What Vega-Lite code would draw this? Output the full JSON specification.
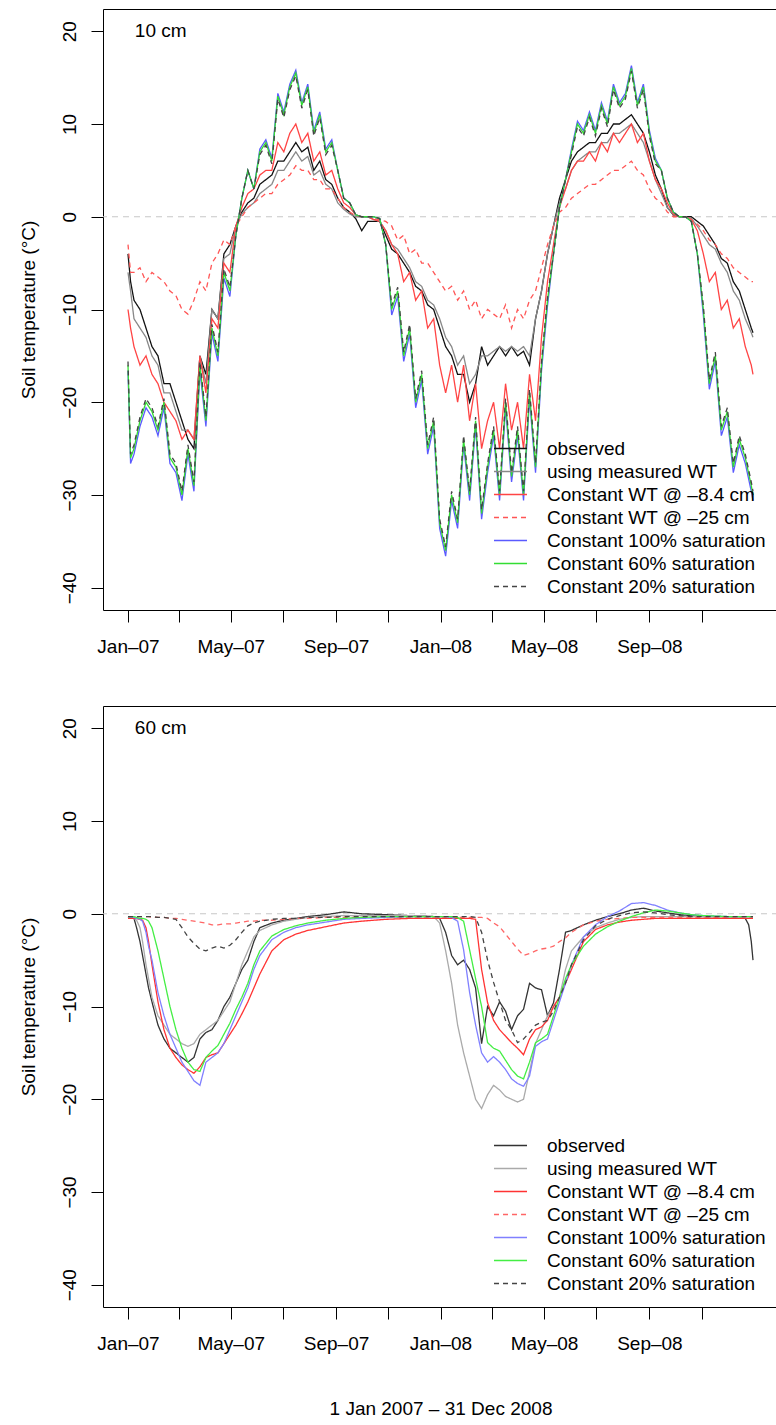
{
"$schema": "https://vega.github.io/schema/vega-lite/v6.json",
"padding": {"left": 18, "top": 8, "right": 0, "bottom": 4},
"config": {
  "font": "Liberation Sans",
  "view": {"stroke": "#000000", "strokeWidth": 1},
  "axis": {"grid": false, "domain": false, "tickColor": "#000000", "tickSize": 12, "tickWidth": 1, "labelFontSize": 19, "labelColor": "#000000", "titleFontSize": 19, "titleFontWeight": "normal", "titleColor": "#000000"},
  "legend": {"labelLimit": 400}
},
"datasets": {
"top": [
{"d":"2007-01-01","O":-4,"M":-6,"R":-10,"RD":-3,"B":-16.6,"G":-16,"K":-15.6},
{"d":"2007-01-04","O":-7,"M":-8,"R":-12,"RD":-6,"B":-26.6,"G":-26,"K":-25.6},
{"d":"2007-01-08","O":-9,"M":-11,"R":-14,"RD":-6,"B":-25.6,"G":-25,"K":-24.6},
{"d":"2007-01-15","O":-10,"M":-12,"R":-16,"RD":-5.5,"B":-22.6,"G":-22,"K":-21.6},
{"d":"2007-01-22","O":-12,"M":-13,"R":-15,"RD":-7,"B":-20.6,"G":-20,"K":-19.6},
{"d":"2007-01-29","O":-14,"M":-15,"R":-17,"RD":-6,"B":-21.6,"G":-21,"K":-20.6},
{"d":"2007-02-05","O":-15,"M":-16,"R":-18,"RD":-6.5,"B":-23.6,"G":-23,"K":-22.6},
{"d":"2007-02-12","O":-18,"M":-19,"R":-20,"RD":-7,"B":-20.6,"G":-20,"K":-19.6},
{"d":"2007-02-19","O":-18,"M":-19,"R":-21,"RD":-8,"B":-26.6,"G":-26,"K":-25.6},
{"d":"2007-02-26","O":-20,"M":-21,"R":-22,"RD":-8.5,"B":-27.6,"G":-27,"K":-26.6},
{"d":"2007-03-05","O":-22,"M":-23,"R":-24,"RD":-10,"B":-30.6,"G":-30,"K":-29.6},
{"d":"2007-03-12","O":-24,"M":-23,"R":-23,"RD":-10.5,"B":-25.6,"G":-25,"K":-24.6},
{"d":"2007-03-19","O":-25,"M":-24,"R":-24,"RD":-9,"B":-29.6,"G":-29,"K":-28.6},
{"d":"2007-03-26","O":-15,"M":-15,"R":-15,"RD":-7,"B":-16.6,"G":-16,"K":-15.6},
{"d":"2007-04-02","O":-17,"M":-18,"R":-19,"RD":-8,"B":-22.6,"G":-22,"K":-21.6},
{"d":"2007-04-09","O":-10,"M":-10,"R":-11,"RD":-5,"B":-12.6,"G":-12,"K":-11.6},
{"d":"2007-04-16","O":-11,"M":-11,"R":-12,"RD":-4,"B":-15.6,"G":-15,"K":-14.6},
{"d":"2007-04-23","O":-4,"M":-4.5,"R":-5,"RD":-2.5,"B":-6.6,"G":-6,"K":-5.6},
{"d":"2007-04-30","O":-3,"M":-4,"R":-6,"RD":-3,"B":-8.6,"G":-8,"K":-7.6},
{"d":"2007-05-07","O":-1,"M":-1,"R":-1,"RD":-1,"B":-2,"G":-2,"K":-2},
{"d":"2007-05-14","O":0.5,"M":0.3,"R":1,"RD":0,"B":2,"G":2,"K":2},
{"d":"2007-05-21","O":1.5,"M":1,"R":2.5,"RD":1,"B":5,"G":5,"K":5},
{"d":"2007-05-28","O":2,"M":1.5,"R":3,"RD":1.5,"B":3,"G":3,"K":3},
{"d":"2007-06-04","O":3.5,"M":2.5,"R":4.5,"RD":2,"B":7.3,"G":7,"K":6.7},
{"d":"2007-06-11","O":4,"M":3,"R":5,"RD":2.5,"B":8.3,"G":8,"K":7.7},
{"d":"2007-06-18","O":4.5,"M":3.5,"R":5,"RD":2.5,"B":6.3,"G":6,"K":5.7},
{"d":"2007-06-25","O":6,"M":5,"R":8,"RD":3.5,"B":13.3,"G":13,"K":12.7},
{"d":"2007-07-02","O":6,"M":5,"R":7,"RD":4,"B":11.3,"G":11,"K":10.7},
{"d":"2007-07-09","O":7,"M":6,"R":9,"RD":4.5,"B":14.3,"G":14,"K":13.7},
{"d":"2007-07-16","O":8,"M":7,"R":10,"RD":5.5,"B":15.8,"G":15.5,"K":15.2},
{"d":"2007-07-23","O":7,"M":6,"R":8,"RD":5,"B":12.3,"G":12,"K":11.7},
{"d":"2007-07-30","O":7.5,"M":6.5,"R":9,"RD":5,"B":14.3,"G":14,"K":13.7},
{"d":"2007-08-06","O":5,"M":4.5,"R":6,"RD":4,"B":9.3,"G":9,"K":8.7},
{"d":"2007-08-13","O":6,"M":5,"R":7,"RD":4,"B":11.3,"G":11,"K":10.7},
{"d":"2007-08-20","O":4,"M":3.5,"R":4.5,"RD":3,"B":7.3,"G":7,"K":6.7},
{"d":"2007-08-27","O":3.5,"M":3,"R":5,"RD":3,"B":8.3,"G":8,"K":7.7},
{"d":"2007-09-03","O":2,"M":1.5,"R":3,"RD":2,"B":5,"G":5,"K":5},
{"d":"2007-09-10","O":1,"M":0.8,"R":1.5,"RD":1,"B":2,"G":2,"K":2},
{"d":"2007-09-17","O":0.5,"M":0.3,"R":1,"RD":0.5,"B":1.5,"G":1.5,"K":1.5},
{"d":"2007-09-24","O":-0.2,"M":0,"R":0.2,"RD":0.1,"B":0.2,"G":0.2,"K":0.2},
{"d":"2007-10-01","O":-1.5,"M":0,"R":0,"RD":0,"B":0,"G":0,"K":0},
{"d":"2007-10-08","O":-0.5,"M":0,"R":0,"RD":0,"B":0,"G":0,"K":0},
{"d":"2007-10-15","O":-0.5,"M":-0.3,"R":-0.3,"RD":-0.2,"B":0,"G":0,"K":0},
{"d":"2007-10-22","O":-0.5,"M":-0.5,"R":-0.5,"RD":-0.3,"B":-0.2,"G":-0.2,"K":-0.2},
{"d":"2007-10-29","O":-2,"M":-1.5,"R":-1.5,"RD":-0.5,"B":-3,"G":-3,"K":-3},
{"d":"2007-11-05","O":-3.5,"M":-3,"R":-3,"RD":-1,"B":-10.6,"G":-10,"K":-9.6},
{"d":"2007-11-12","O":-4,"M":-3.5,"R":-4,"RD":-2.5,"B":-8.6,"G":-8,"K":-7.6},
{"d":"2007-11-19","O":-5,"M":-4.5,"R":-7,"RD":-2,"B":-15.6,"G":-15,"K":-14.6},
{"d":"2007-11-26","O":-6,"M":-5.5,"R":-6,"RD":-4,"B":-12.6,"G":-12,"K":-11.6},
{"d":"2007-12-03","O":-7.5,"M":-7,"R":-9,"RD":-3.5,"B":-20.6,"G":-20,"K":-19.6},
{"d":"2007-12-10","O":-8,"M":-7.5,"R":-8,"RD":-5,"B":-17.6,"G":-17,"K":-16.6},
{"d":"2007-12-17","O":-9.5,"M":-9,"R":-12,"RD":-5,"B":-25.6,"G":-25,"K":-24.6},
{"d":"2007-12-24","O":-10,"M":-9.5,"R":-11,"RD":-6,"B":-22.6,"G":-22,"K":-21.6},
{"d":"2007-12-31","O":-12,"M":-11,"R":-16,"RD":-7,"B":-33.6,"G":-33,"K":-32.6},
{"d":"2008-01-07","O":-14,"M":-13,"R":-19,"RD":-8,"B":-36.6,"G":-36,"K":-35.6},
{"d":"2008-01-14","O":-15,"M":-14,"R":-16,"RD":-7.5,"B":-30.6,"G":-30,"K":-29.6},
{"d":"2008-01-21","O":-17,"M":-16,"R":-20,"RD":-9,"B":-33.6,"G":-33,"K":-32.6},
{"d":"2008-01-28","O":-17,"M":-15,"R":-16,"RD":-8,"B":-24.6,"G":-24,"K":-23.6},
{"d":"2008-02-04","O":-20,"M":-18,"R":-22,"RD":-10,"B":-30.6,"G":-30,"K":-29.6},
{"d":"2008-02-11","O":-18,"M":-17,"R":-18,"RD":-9,"B":-22.6,"G":-22,"K":-21.6},
{"d":"2008-02-18","O":-14,"M":-15,"R":-25,"RD":-11,"B":-32.6,"G":-32,"K":-31.6},
{"d":"2008-02-25","O":-16,"M":-15,"R":-22,"RD":-10,"B":-27.6,"G":-27,"K":-26.6},
{"d":"2008-03-03","O":-15,"M":-14.5,"R":-20,"RD":-10.5,"B":-23.6,"G":-23,"K":-22.6},
{"d":"2008-03-10","O":-14,"M":-14,"R":-25,"RD":-11,"B":-30.6,"G":-30,"K":-29.6},
{"d":"2008-03-17","O":-15,"M":-14.5,"R":-18,"RD":-9.5,"B":-20.6,"G":-20,"K":-19.6},
{"d":"2008-03-24","O":-14,"M":-14,"R":-23,"RD":-12,"B":-28.6,"G":-28,"K":-27.6},
{"d":"2008-03-31","O":-15,"M":-14.5,"R":-20,"RD":-10,"B":-23.6,"G":-23,"K":-22.6},
{"d":"2008-04-07","O":-14.5,"M":-14,"R":-25,"RD":-11,"B":-30.6,"G":-30,"K":-29.6},
{"d":"2008-04-14","O":-16,"M":-15,"R":-17,"RD":-9,"B":-19.6,"G":-19,"K":-18.6},
{"d":"2008-04-21","O":-11,"M":-11,"R":-22,"RD":-8,"B":-27.6,"G":-27,"K":-26.6},
{"d":"2008-04-28","O":-8,"M":-8,"R":-13,"RD":-5.5,"B":-16.6,"G":-16,"K":-15.6},
{"d":"2008-05-05","O":-4,"M":-4,"R":-7,"RD":-3,"B":-9.6,"G":-9,"K":-8.6},
{"d":"2008-05-12","O":-1,"M":-1,"R":-3,"RD":-1,"B":-4,"G":-4,"K":-4},
{"d":"2008-05-19","O":2,"M":1.5,"R":1,"RD":0.5,"B":1,"G":1,"K":1},
{"d":"2008-05-26","O":4,"M":3,"R":3,"RD":1,"B":4,"G":4,"K":4},
{"d":"2008-06-02","O":6,"M":5,"R":5,"RD":2,"B":7.3,"G":7,"K":6.7},
{"d":"2008-06-09","O":7,"M":6,"R":6,"RD":2.5,"B":10.3,"G":10,"K":9.7},
{"d":"2008-06-16","O":7.5,"M":6.5,"R":6,"RD":3,"B":9.3,"G":9,"K":8.7},
{"d":"2008-06-23","O":8,"M":7,"R":7,"RD":3.5,"B":11.3,"G":11,"K":10.7},
{"d":"2008-06-30","O":8,"M":7,"R":6,"RD":3.5,"B":9.3,"G":9,"K":8.7},
{"d":"2008-07-07","O":9,"M":8,"R":8,"RD":4,"B":12.3,"G":12,"K":11.7},
{"d":"2008-07-14","O":9,"M":8,"R":7,"RD":4.5,"B":10.3,"G":10,"K":9.7},
{"d":"2008-07-21","O":10,"M":9,"R":9,"RD":5,"B":14.3,"G":14,"K":13.7},
{"d":"2008-07-28","O":10,"M":9,"R":8,"RD":5,"B":12.3,"G":12,"K":11.7},
{"d":"2008-08-04","O":10.5,"M":9.5,"R":9,"RD":5.5,"B":13.3,"G":13,"K":12.7},
{"d":"2008-08-11","O":11,"M":10,"R":10,"RD":6,"B":16.3,"G":16,"K":15.7},
{"d":"2008-08-18","O":10,"M":9,"R":8,"RD":5,"B":12.3,"G":12,"K":11.7},
{"d":"2008-08-25","O":9,"M":8,"R":9,"RD":4.5,"B":14.3,"G":14,"K":13.7},
{"d":"2008-09-01","O":7,"M":6,"R":6,"RD":3,"B":9.3,"G":9,"K":8.7},
{"d":"2008-09-08","O":4.5,"M":4,"R":4,"RD":2,"B":6.3,"G":6,"K":5.7},
{"d":"2008-09-15","O":3,"M":2.5,"R":3,"RD":1.5,"B":5,"G":5,"K":5},
{"d":"2008-09-22","O":1,"M":1,"R":1.5,"RD":0.5,"B":2,"G":2,"K":2},
{"d":"2008-09-29","O":0.2,"M":0.2,"R":0.3,"RD":0,"B":0.5,"G":0.5,"K":0.5},
{"d":"2008-10-06","O":0,"M":0,"R":0,"RD":0,"B":0,"G":0,"K":0},
{"d":"2008-10-13","O":0,"M":0,"R":0,"RD":0,"B":0,"G":0,"K":0},
{"d":"2008-10-20","O":0,"M":-0.2,"R":-0.3,"RD":-0.3,"B":-0.5,"G":-0.5,"K":-0.5},
{"d":"2008-10-27","O":-0.5,"M":-1,"R":-1.5,"RD":-0.8,"B":-4,"G":-4,"K":-4},
{"d":"2008-11-03","O":-1,"M":-2,"R":-4,"RD":-1.5,"B":-10.6,"G":-10,"K":-9.6},
{"d":"2008-11-10","O":-2,"M":-3,"R":-7,"RD":-2.5,"B":-18.6,"G":-18,"K":-17.6},
{"d":"2008-11-17","O":-3,"M":-3.5,"R":-6,"RD":-3,"B":-15.6,"G":-15,"K":-14.6},
{"d":"2008-11-24","O":-4.5,"M":-5,"R":-10,"RD":-4,"B":-23.6,"G":-23,"K":-22.6},
{"d":"2008-12-01","O":-5,"M":-6,"R":-9,"RD":-4.5,"B":-21.6,"G":-21,"K":-20.6},
{"d":"2008-12-08","O":-7,"M":-8,"R":-12,"RD":-5.5,"B":-27.6,"G":-27,"K":-26.6},
{"d":"2008-12-15","O":-8,"M":-9,"R":-11,"RD":-6,"B":-24.6,"G":-24,"K":-23.6},
{"d":"2008-12-22","O":-10,"M":-11,"R":-14,"RD":-6.5,"B":-26.6,"G":-26,"K":-25.6},
{"d":"2008-12-29","O":-12,"M":-12.5,"R":-16,"RD":-7,"B":-29.6,"G":-29,"K":-28.6},
{"d":"2008-12-31","O":-12.5,"M":-13,"R":-17,"RD":-7,"B":-30.6,"G":-30,"K":-29.6}
],
"bot": [
{"d":"2007-01-01","O":-0.3,"M":-0.3,"R":-0.5,"RD":-0.3,"B":-0.3,"G":-0.3,"K":-0.3},
{"d":"2007-01-08","O":-0.5,"M":-0.5,"R":-0.5,"RD":-0.3,"B":-0.4,"G":-0.3,"K":-0.3},
{"d":"2007-01-11","O":-1.5,"M":-0.7,"R":-0.5,"RD":-0.3,"B":-0.5,"G":-0.4,"K":-0.3},
{"d":"2007-01-15","O":-3,"M":-1.5,"R":-0.6,"RD":-0.3,"B":-0.6,"G":-0.5,"K":-0.3},
{"d":"2007-01-18","O":-4.5,"M":-3,"R":-0.7,"RD":-0.3,"B":-0.8,"G":-0.5,"K":-0.3},
{"d":"2007-01-22","O":-6.5,"M":-5.5,"R":-1.5,"RD":-0.3,"B":-2,"G":-0.6,"K":-0.3},
{"d":"2007-01-25","O":-8,"M":-7,"R":-3,"RD":-0.3,"B":-3.5,"G":-0.8,"K":-0.3},
{"d":"2007-01-29","O":-9.5,"M":-9,"R":-5.5,"RD":-0.4,"B":-5,"G":-1.5,"K":-0.3},
{"d":"2007-02-05","O":-12,"M":-11,"R":-9.5,"RD":-0.4,"B":-8.5,"G":-4,"K":-0.4},
{"d":"2007-02-12","O":-13.5,"M":-12,"R":-12.5,"RD":-0.4,"B":-11,"G":-7,"K":-0.4},
{"d":"2007-02-19","O":-14.5,"M":-13,"R":-14.5,"RD":-0.5,"B":-13,"G":-10,"K":-0.5},
{"d":"2007-02-26","O":-15,"M":-13.5,"R":-15.5,"RD":-0.5,"B":-14.5,"G":-12.5,"K":-0.6},
{"d":"2007-03-05","O":-15.5,"M":-14,"R":-16.3,"RD":-0.6,"B":-16,"G":-14.5,"K":-1.5},
{"d":"2007-03-12","O":-16,"M":-14.3,"R":-16.8,"RD":-0.7,"B":-17,"G":-16,"K":-2.5},
{"d":"2007-03-19","O":-15.5,"M":-14,"R":-17.2,"RD":-0.8,"B":-18,"G":-16.8,"K":-3.2},
{"d":"2007-03-26","O":-13.5,"M":-13,"R":-16.5,"RD":-0.9,"B":-18.5,"G":-17,"K":-3.8},
{"d":"2007-04-02","O":-12.8,"M":-12.5,"R":-15.5,"RD":-1,"B":-16,"G":-15.5,"K":-4},
{"d":"2007-04-09","O":-12.5,"M":-12,"R":-15.2,"RD":-1.2,"B":-15.5,"G":-14.8,"K":-3.7},
{"d":"2007-04-16","O":-11.5,"M":-11.5,"R":-15,"RD":-1.2,"B":-15,"G":-14.2,"K":-3.5},
{"d":"2007-04-23","O":-10,"M":-10.5,"R":-14,"RD":-1.1,"B":-14,"G":-13,"K":-3.7},
{"d":"2007-04-30","O":-9,"M":-9.5,"R":-13,"RD":-1.1,"B":-12.5,"G":-11.8,"K":-3.4},
{"d":"2007-05-07","O":-7.5,"M":-7.5,"R":-12,"RD":-1,"B":-11,"G":-10.3,"K":-2.8},
{"d":"2007-05-14","O":-6,"M":-5.5,"R":-10.8,"RD":-0.9,"B":-9.5,"G":-9,"K":-2},
{"d":"2007-05-21","O":-5,"M":-4,"R":-9.5,"RD":-0.8,"B":-8,"G":-7.5,"K":-1.3},
{"d":"2007-05-28","O":-3,"M":-2.5,"R":-8,"RD":-0.8,"B":-6,"G":-5.5,"K":-1},
{"d":"2007-06-04","O":-1.5,"M":-1.8,"R":-6.5,"RD":-0.7,"B":-4.5,"G":-4,"K":-0.8},
{"d":"2007-06-18","O":-1,"M":-1.2,"R":-4,"RD":-0.7,"B":-2.8,"G":-2.4,"K":-0.6},
{"d":"2007-07-02","O":-0.7,"M":-0.8,"R":-2.8,"RD":-0.6,"B":-2,"G":-1.7,"K":-0.5},
{"d":"2007-07-16","O":-0.5,"M":-0.6,"R":-2.2,"RD":-0.5,"B":-1.5,"G":-1.3,"K":-0.5},
{"d":"2007-07-30","O":-0.3,"M":-0.4,"R":-1.8,"RD":-0.5,"B":-1.2,"G":-1,"K":-0.4},
{"d":"2007-08-20","O":-0.1,"M":-0.3,"R":-1.4,"RD":-0.4,"B":-0.9,"G":-0.7,"K":-0.4},
{"d":"2007-09-10","O":0.2,"M":-0.2,"R":-1,"RD":-0.4,"B":-0.6,"G":-0.5,"K":-0.3},
{"d":"2007-10-01","O":0,"M":-0.2,"R":-0.8,"RD":-0.4,"B":-0.5,"G":-0.4,"K":-0.3},
{"d":"2007-10-29","O":-0.1,"M":-0.2,"R":-0.6,"RD":-0.4,"B":-0.4,"G":-0.3,"K":-0.3},
{"d":"2007-11-26","O":-0.2,"M":-0.2,"R":-0.5,"RD":-0.4,"B":-0.3,"G":-0.3,"K":-0.3},
{"d":"2007-12-24","O":-0.3,"M":-0.3,"R":-0.5,"RD":-0.4,"B":-0.3,"G":-0.3,"K":-0.3},
{"d":"2007-12-31","O":-0.5,"M":-1,"R":-0.5,"RD":-0.4,"B":-0.3,"G":-0.3,"K":-0.3},
{"d":"2008-01-07","O":-2,"M":-4,"R":-0.5,"RD":-0.4,"B":-0.3,"G":-0.3,"K":-0.3},
{"d":"2008-01-14","O":-4.5,"M":-7.5,"R":-0.5,"RD":-0.4,"B":-0.4,"G":-0.3,"K":-0.3},
{"d":"2008-01-21","O":-5.5,"M":-12,"R":-0.5,"RD":-0.4,"B":-0.8,"G":-0.4,"K":-0.3},
{"d":"2008-01-28","O":-5,"M":-15,"R":-0.5,"RD":-0.4,"B":-3.9,"G":-0.8,"K":-0.3},
{"d":"2008-02-04","O":-6,"M":-17.5,"R":-0.5,"RD":-0.4,"B":-8.5,"G":-3.9,"K":-0.3},
{"d":"2008-02-11","O":-8,"M":-20,"R":-0.6,"RD":-0.4,"B":-12,"G":-7,"K":-0.4},
{"d":"2008-02-18","O":-14,"M":-21,"R":-6,"RD":-0.4,"B":-15,"G":-10,"K":-2},
{"d":"2008-02-25","O":-10,"M":-19.5,"R":-9.6,"RD":-0.5,"B":-16,"G":-13.9,"K":-5},
{"d":"2008-03-03","O":-11,"M":-18.5,"R":-11.5,"RD":-1,"B":-15.4,"G":-14.5,"K":-7.4},
{"d":"2008-03-10","O":-9.5,"M":-19,"R":-12.5,"RD":-1.4,"B":-16,"G":-14.8,"K":-9.5},
{"d":"2008-03-17","O":-10.5,"M":-19.7,"R":-13.2,"RD":-2.2,"B":-16.8,"G":-15.8,"K":-11.5},
{"d":"2008-03-24","O":-12.5,"M":-20,"R":-13.9,"RD":-3,"B":-17.8,"G":-16.8,"K":-12.5},
{"d":"2008-03-31","O":-11,"M":-20.3,"R":-14.5,"RD":-3.8,"B":-18.3,"G":-17.5,"K":-13.9},
{"d":"2008-04-07","O":-10.3,"M":-20,"R":-15.2,"RD":-4.5,"B":-18.6,"G":-17.8,"K":-13.5},
{"d":"2008-04-14","O":-7.5,"M":-17,"R":-13.5,"RD":-4.3,"B":-17.5,"G":-16,"K":-12.8},
{"d":"2008-04-21","O":-8,"M":-14,"R":-12.5,"RD":-4,"B":-14.3,"G":-13.9,"K":-12},
{"d":"2008-04-28","O":-8.2,"M":-12.5,"R":-12.2,"RD":-3.8,"B":-13.8,"G":-13.5,"K":-11.7},
{"d":"2008-05-05","O":-11,"M":-11,"R":-11.5,"RD":-3.7,"B":-13.5,"G":-13,"K":-11.5},
{"d":"2008-05-12","O":-9.6,"M":-10,"R":-10,"RD":-3.5,"B":-11.5,"G":-11,"K":-10.5},
{"d":"2008-05-19","O":-6,"M":-9,"R":-9,"RD":-3,"B":-9.5,"G":-9,"K":-9},
{"d":"2008-05-26","O":-2,"M":-6,"R":-7.5,"RD":-2.6,"B":-7.5,"G":-7,"K":-7.5},
{"d":"2008-06-02","O":-1.8,"M":-4,"R":-6,"RD":-2,"B":-5.5,"G":-5.5,"K":-5.5},
{"d":"2008-06-16","O":-1.2,"M":-2.5,"R":-3,"RD":-1.2,"B":-2.5,"G":-3.5,"K":-2.8},
{"d":"2008-06-30","O":-0.7,"M":-1.5,"R":-1.7,"RD":-0.8,"B":-1.2,"G":-2.2,"K":-1.3},
{"d":"2008-07-14","O":-0.3,"M":-1,"R":-1.2,"RD":-0.6,"B":-0.3,"G":-1.4,"K":-0.6},
{"d":"2008-07-28","O":0,"M":-0.6,"R":-0.9,"RD":-0.5,"B":0.3,"G":-0.8,"K":-0.2},
{"d":"2008-08-11","O":0.4,"M":-0.4,"R":-0.7,"RD":-0.4,"B":1.1,"G":-0.3,"K":0.1},
{"d":"2008-08-25","O":0.6,"M":-0.3,"R":-0.6,"RD":-0.4,"B":1.2,"G":0.1,"K":0.2},
{"d":"2008-09-08","O":0.3,"M":-0.3,"R":-0.5,"RD":-0.4,"B":0.9,"G":0.4,"K":0.1},
{"d":"2008-09-22","O":0.1,"M":-0.3,"R":-0.5,"RD":-0.4,"B":0.4,"G":0.3,"K":-0.1},
{"d":"2008-10-06","O":-0.1,"M":-0.3,"R":-0.5,"RD":-0.4,"B":0.1,"G":0.1,"K":-0.2},
{"d":"2008-10-20","O":-0.2,"M":-0.3,"R":-0.5,"RD":-0.4,"B":-0.1,"G":-0.1,"K":-0.3},
{"d":"2008-11-03","O":-0.3,"M":-0.3,"R":-0.5,"RD":-0.4,"B":-0.2,"G":-0.2,"K":-0.3},
{"d":"2008-12-01","O":-0.3,"M":-0.3,"R":-0.5,"RD":-0.4,"B":-0.3,"G":-0.3,"K":-0.3},
{"d":"2008-12-15","O":-0.3,"M":-0.3,"R":-0.5,"RD":-0.4,"B":-0.3,"G":-0.3,"K":-0.3},
{"d":"2008-12-22","O":-0.5,"M":-0.3,"R":-0.5,"RD":-0.4,"B":-0.3,"G":-0.3,"K":-0.3},
{"d":"2008-12-26","O":-1.2,"M":-0.3,"R":-0.5,"RD":-0.4,"B":-0.3,"G":-0.3,"K":-0.3},
{"d":"2008-12-29","O":-3,"M":-0.3,"R":-0.5,"RD":-0.4,"B":-0.3,"G":-0.3,"K":-0.3},
{"d":"2008-12-31","O":-5,"M":-0.3,"R":-0.5,"RD":-0.4,"B":-0.3,"G":-0.3,"K":-0.3}
]
},
"spacing": 48,
"resolve": {"scale": {"color": "independent", "strokeDash": "independent"}, "legend": {"color": "independent", "strokeDash": "independent"}},
"vconcat": [
{
  "width": 675, "height": 601,
  "layer": [
    {"data": {"values": [{}]}, "mark": {"type": "rule", "color": "#c8c8c8", "strokeDash": [6, 5], "strokeWidth": 1.2}, "encoding": {"y": {"datum": 0, "type": "quantitative"}}},
    {"data": {"name": "top"},
     "transform": [{"fold": ["O", "M", "R", "RD", "B", "G", "K"], "as": ["key", "value"]}],
     "mark": {"type": "line", "strokeWidth": 1.3},
     "encoding": {
       "x": {"field": "d", "type": "temporal",
         "scale": {"type": "utc", "domain": [{"year": 2006, "month": 12, "date": 2, "hours": 19, "utc": true}, {"year": 2009, "month": 1, "date": 29, "hours": 5, "utc": true}]},
         "axis": {"title": null, "labelPadding": 15,
           "values": [{"year":2007,"month":1,"date":1,"utc":true},{"year":2007,"month":2,"date":1,"utc":true},{"year":2007,"month":3,"date":1,"utc":true},{"year":2007,"month":4,"date":1,"utc":true},{"year":2007,"month":5,"date":1,"utc":true},{"year":2007,"month":6,"date":1,"utc":true},{"year":2007,"month":7,"date":1,"utc":true},{"year":2007,"month":8,"date":1,"utc":true},{"year":2007,"month":9,"date":1,"utc":true},{"year":2007,"month":10,"date":1,"utc":true},{"year":2007,"month":11,"date":1,"utc":true},{"year":2007,"month":12,"date":1,"utc":true},{"year":2008,"month":1,"date":1,"utc":true},{"year":2008,"month":2,"date":1,"utc":true},{"year":2008,"month":3,"date":1,"utc":true},{"year":2008,"month":4,"date":1,"utc":true},{"year":2008,"month":5,"date":1,"utc":true},{"year":2008,"month":6,"date":1,"utc":true},{"year":2008,"month":7,"date":1,"utc":true},{"year":2008,"month":8,"date":1,"utc":true},{"year":2008,"month":9,"date":1,"utc":true},{"year":2008,"month":10,"date":1,"utc":true},{"year":2008,"month":11,"date":1,"utc":true},{"year":2008,"month":12,"date":1,"utc":true}],
           "labelExpr": "utcmonth(datum.value) % 4 == 0 ? utcFormat(datum.value, '%b–%y') : ''"}},
       "y": {"field": "value", "type": "quantitative", "scale": {"domain": [-42.4, 22.4], "nice": false, "zero": false},
         "axis": {"title": "Soil temperature (°C)", "values": [-40, -30, -20, -10, 0, 10, 20], "labelAngle": -90, "labelAlign": "center", "labelBaseline": "alphabetic", "labelPadding": 16, "titlePadding": 22}},
       "color": {"field": "key", "type": "nominal",
         "scale": {"domain": ["O", "M", "R", "RD", "B", "G", "K"], "range": ["#111111", "#888888", "#ff4444", "#ff5555", "#5a5aff", "#33dd33", "#444444"]},
         "legend": {"title": null, "orient": "none", "legendX": 390, "legendY": 428, "symbolType": "stroke", "symbolSize": 1089, "symbolStrokeWidth": 1.3, "labelFontSize": 19, "labelColor": "#000000", "labelOffset": 19, "labelLimit": 400, "clipHeight": 23, "rowPadding": 0, "padding": 0,
           "labelExpr": "datum.label == 'O' ? 'observed' : datum.label == 'M' ? 'using measured WT' : datum.label == 'R' ? 'Constant WT @ –8.4 cm' : datum.label == 'RD' ? 'Constant WT @ –25 cm' : datum.label == 'B' ? 'Constant 100% saturation' : datum.label == 'G' ? 'Constant 60% saturation' : 'Constant 20% saturation'"}},
       "strokeDash": {"field": "key", "type": "nominal",
         "scale": {"domain": ["O", "M", "R", "RD", "B", "G", "K"], "range": [[1, 0], [1, 0], [1, 0], [5, 4], [1, 0], [1, 0], [5, 4]]},
         "legend": {"title": null, "orient": "none", "legendX": 390, "legendY": 428, "symbolType": "stroke", "symbolSize": 1089, "symbolStrokeWidth": 1.3, "labelFontSize": 19, "labelColor": "#000000", "labelOffset": 19, "labelLimit": 400, "clipHeight": 23, "rowPadding": 0, "padding": 0,
           "labelExpr": "datum.label == 'O' ? 'observed' : datum.label == 'M' ? 'using measured WT' : datum.label == 'R' ? 'Constant WT @ –8.4 cm' : datum.label == 'RD' ? 'Constant WT @ –25 cm' : datum.label == 'B' ? 'Constant 100% saturation' : datum.label == 'G' ? 'Constant 60% saturation' : 'Constant 20% saturation'"}}
     }},
    {"data": {"values": [{}]}, "mark": {"type": "text", "align": "left", "baseline": "middle", "fontSize": 19, "color": "#000000", "text": "10 cm"},
     "encoding": {"x": {"datum": {"year": 2007, "month": 1, "date": 9, "utc": true}, "type": "temporal"}, "y": {"datum": 20, "type": "quantitative"}}}
  ]
},
{
  "width": 675, "height": 601,
  "layer": [
    {"data": {"values": [{}]}, "mark": {"type": "rule", "color": "#c8c8c8", "strokeDash": [6, 5], "strokeWidth": 1.2}, "encoding": {"y": {"datum": 0, "type": "quantitative"}}},
    {"data": {"name": "bot"},
     "transform": [{"fold": ["O", "M", "R", "RD", "B", "G", "K"], "as": ["key", "value"]}],
     "mark": {"type": "line", "strokeWidth": 1.3},
     "encoding": {
       "x": {"field": "d", "type": "temporal",
         "scale": {"type": "utc", "domain": [{"year": 2006, "month": 12, "date": 2, "hours": 19, "utc": true}, {"year": 2009, "month": 1, "date": 29, "hours": 5, "utc": true}]},
         "axis": {"title": "1 Jan 2007 – 31 Dec 2008", "titlePadding": 46, "labelPadding": 15,
           "values": [{"year":2007,"month":1,"date":1,"utc":true},{"year":2007,"month":2,"date":1,"utc":true},{"year":2007,"month":3,"date":1,"utc":true},{"year":2007,"month":4,"date":1,"utc":true},{"year":2007,"month":5,"date":1,"utc":true},{"year":2007,"month":6,"date":1,"utc":true},{"year":2007,"month":7,"date":1,"utc":true},{"year":2007,"month":8,"date":1,"utc":true},{"year":2007,"month":9,"date":1,"utc":true},{"year":2007,"month":10,"date":1,"utc":true},{"year":2007,"month":11,"date":1,"utc":true},{"year":2007,"month":12,"date":1,"utc":true},{"year":2008,"month":1,"date":1,"utc":true},{"year":2008,"month":2,"date":1,"utc":true},{"year":2008,"month":3,"date":1,"utc":true},{"year":2008,"month":4,"date":1,"utc":true},{"year":2008,"month":5,"date":1,"utc":true},{"year":2008,"month":6,"date":1,"utc":true},{"year":2008,"month":7,"date":1,"utc":true},{"year":2008,"month":8,"date":1,"utc":true},{"year":2008,"month":9,"date":1,"utc":true},{"year":2008,"month":10,"date":1,"utc":true},{"year":2008,"month":11,"date":1,"utc":true},{"year":2008,"month":12,"date":1,"utc":true}],
           "labelExpr": "utcmonth(datum.value) % 4 == 0 ? utcFormat(datum.value, '%b–%y') : ''"}},
       "y": {"field": "value", "type": "quantitative", "scale": {"domain": [-42.4, 22.4], "nice": false, "zero": false},
         "axis": {"title": "Soil temperature (°C)", "values": [-40, -30, -20, -10, 0, 10, 20], "labelAngle": -90, "labelAlign": "center", "labelBaseline": "alphabetic", "labelPadding": 16, "titlePadding": 22}},
       "color": {"field": "key", "type": "nominal",
         "scale": {"domain": ["O", "M", "R", "RD", "B", "G", "K"], "range": ["#333333", "#aaaaaa", "#ff3333", "#ff6666", "#8080ff", "#44ee44", "#444444"]},
         "legend": {"title": null, "orient": "none", "legendX": 390, "legendY": 428, "symbolType": "stroke", "symbolSize": 1089, "symbolStrokeWidth": 1.3, "labelFontSize": 19, "labelColor": "#000000", "labelOffset": 19, "labelLimit": 400, "clipHeight": 23, "rowPadding": 0, "padding": 0,
           "labelExpr": "datum.label == 'O' ? 'observed' : datum.label == 'M' ? 'using measured WT' : datum.label == 'R' ? 'Constant WT @ –8.4 cm' : datum.label == 'RD' ? 'Constant WT @ –25 cm' : datum.label == 'B' ? 'Constant 100% saturation' : datum.label == 'G' ? 'Constant 60% saturation' : 'Constant 20% saturation'"}},
       "strokeDash": {"field": "key", "type": "nominal",
         "scale": {"domain": ["O", "M", "R", "RD", "B", "G", "K"], "range": [[1, 0], [1, 0], [1, 0], [5, 4], [1, 0], [1, 0], [5, 4]]},
         "legend": {"title": null, "orient": "none", "legendX": 390, "legendY": 428, "symbolType": "stroke", "symbolSize": 1089, "symbolStrokeWidth": 1.3, "labelFontSize": 19, "labelColor": "#000000", "labelOffset": 19, "labelLimit": 400, "clipHeight": 23, "rowPadding": 0, "padding": 0,
           "labelExpr": "datum.label == 'O' ? 'observed' : datum.label == 'M' ? 'using measured WT' : datum.label == 'R' ? 'Constant WT @ –8.4 cm' : datum.label == 'RD' ? 'Constant WT @ –25 cm' : datum.label == 'B' ? 'Constant 100% saturation' : datum.label == 'G' ? 'Constant 60% saturation' : 'Constant 20% saturation'"}}
     }},
    {"data": {"values": [{}]}, "mark": {"type": "text", "align": "left", "baseline": "middle", "fontSize": 19, "color": "#000000", "text": "60 cm"},
     "encoding": {"x": {"datum": {"year": 2007, "month": 1, "date": 9, "utc": true}, "type": "temporal"}, "y": {"datum": 20, "type": "quantitative"}}}
  ]
}
]
}
